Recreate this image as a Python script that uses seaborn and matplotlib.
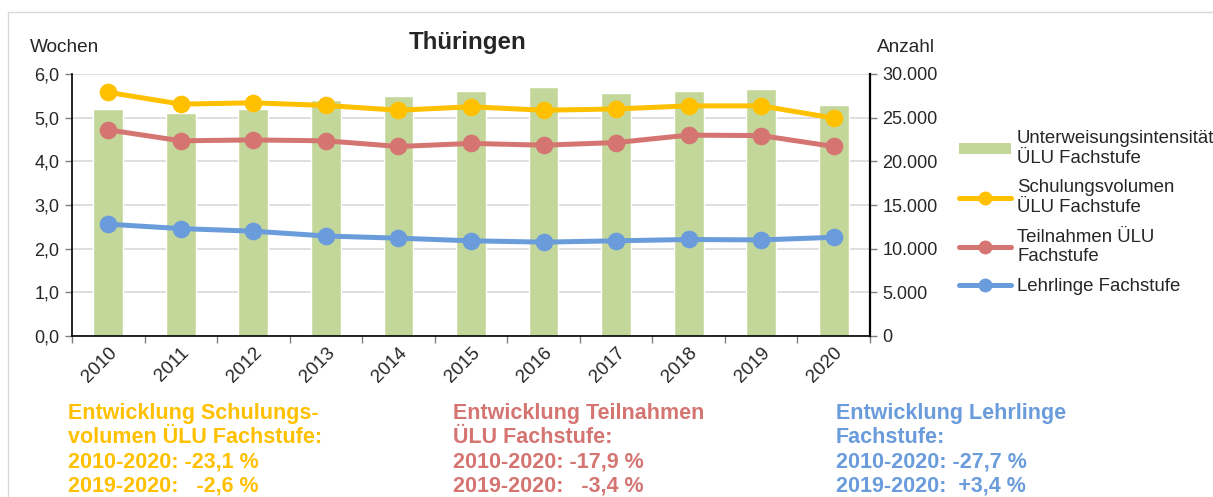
import numpy as np
import pandas as pd
import matplotlib.pyplot as plt
from matplotlib.patches import Rectangle, Patch
from matplotlib.lines import Line2D
from matplotlib.ticker import FuncFormatter, FixedLocator
import seaborn as sns

jahre = ['2010', '2011', '2012', '2013', '2014', '2015', '2016', '2017', '2018', '2019', '2020']
intensitaet = [5.2, 5.1, 5.2, 5.4, 5.5, 5.6, 5.7, 5.57, 5.6, 5.65, 5.28]
schulungsvolumen = [27900, 26550, 26700, 26400, 25850, 26250, 25850, 26000, 26350, 26350, 24950]
teilnahmen = [23600, 22350, 22450, 22350, 21700, 22050, 21850, 22150, 23000, 22950, 21700]
lehrlinge = [12800, 12300, 12000, 11450, 11200, 10900, 10750, 10900, 11050, 11000, 11300]

namen = ['Schulungsvolumen\nÜLU Fachstufe', 'Teilnahmen ÜLU\nFachstufe', 'Lehrlinge Fachstufe']
farben = ['#FFC000', '#D47572', '#6A9CDC']
gruen = '#C4D79B'

sns.set_theme(style='white')
plt.rcParams['font.family'] = ['Liberation Sans', 'DejaVu Sans']

df_bar = pd.DataFrame({'Jahr': jahre, 'Wochen': intensitaet})
df_lin = pd.DataFrame({
    'Jahr': jahre * 3,
    'Anzahl': schulungsvolumen + teilnahmen + lehrlinge,
    'Serie': [namen[0]] * 11 + [namen[1]] * 11 + [namen[2]] * 11,
})

fig = plt.figure(figsize=(12.13, 4.97), dpi=100)
ax = fig.add_axes([72 / 1213, 1 - 336 / 497, (870 - 72) / 1213, 262 / 497])

sns.barplot(data=df_bar, x='Jahr', y='Wochen', color=gruen, saturation=1, width=0.41, ax=ax)
ax.set_ylim(0, 6)
ax.set_xlim(-0.5, 10.5)
ax.set_yticks(np.arange(0, 6.01, 1))
ax.yaxis.set_major_formatter(FuncFormatter(lambda v, p: f'{v:.1f}'.replace('.', ',')))
ax.grid(axis='y', color='#D9D9D9', linewidth=1.2)
ax.set_axisbelow(True)
ax.set_xlabel('')
ax.set_ylabel('')
for s in ['left', 'bottom']:
    ax.spines[s].set_color('black')
    ax.spines[s].set_linewidth(1.2)
ax.spines['top'].set_visible(False)
ax.spines['right'].set_visible(False)
ax.tick_params(axis='y', which='major', left=True, length=5, width=1, color='#808080', labelsize=13, pad=4)
ax.tick_params(axis='x', which='major', length=0, labelsize=13.5, pad=6)
ax.xaxis.set_minor_locator(FixedLocator(np.arange(-0.5, 11, 1)))
ax.tick_params(axis='x', which='minor', bottom=True, length=5, width=1, color='#808080')
for lbl in ax.get_xticklabels():
    lbl.set_rotation(45)
    lbl.set_ha('right')
    lbl.set_rotation_mode('anchor')

ax2 = ax.twinx()
sns.pointplot(data=df_lin, x='Jahr', y='Anzahl', hue='Serie', palette=farben,
              markers='o', linestyles='-', errorbar=None, ax=ax2,
              linewidth=3.6, markersize=10)
ax2.legend_.remove()
ax2.set_ylim(0, 30000)
ax2.set_xlim(-0.5, 10.5)
ax2.set_yticks(np.arange(0, 30001, 5000))
ax2.yaxis.set_major_formatter(FuncFormatter(lambda v, p: f'{int(v):,}'.replace(',', '.')))
ax2.set_ylabel('')
ax2.set_xlabel('')
ax2.grid(False)
for s in ['top', 'left', 'bottom']:
    ax2.spines[s].set_visible(False)
ax2.spines['right'].set_color('black')
ax2.spines['right'].set_linewidth(1.6)
ax2.tick_params(axis='y', right=True, length=5, width=1, color='#808080', labelsize=13, pad=4)

fig.text(468 / 1213, 1 - 43 / 497, 'Thüringen', ha='center', va='center', fontsize=17.4, fontweight='bold')
fig.text(30 / 1213, 1 - 47 / 497, 'Wochen', ha='left', va='center', fontsize=13.7)
fig.text(877 / 1213, 1 - 47 / 497, 'Anzahl', ha='left', va='center', fontsize=13.7)

handles = [Patch(facecolor=gruen, edgecolor='none')]
for f in farben:
    handles.append(Line2D([0], [0], color=f, linewidth=3.6, marker='o', markersize=9))
labels = ['Unterweisungsintensität\nÜLU Fachstufe'] + namen
fig.legend(handles, labels, loc='upper left', bbox_to_anchor=(946 / 1213, 1 - 117 / 497),
           frameon=False, fontsize=13.4, handlelength=2.8, handleheight=0.5,
           handletextpad=0.32, labelspacing=0.68, borderaxespad=0.3)

texte = [
    (68, farben[0], 'Entwicklung Schulungs-\nvolumen ÜLU Fachstufe:\n2010-2020: -23,1 %\n2019-2020:   -2,6 %'),
    (453, farben[1], 'Entwicklung Teilnahmen\nÜLU Fachstufe:\n2010-2020: -17,9 %\n2019-2020:   -3,4 %'),
    (836, farben[2], 'Entwicklung Lehrlinge\nFachstufe:\n2010-2020: -27,7 %\n2019-2020:  +3,4 %'),
]
for x, c, t in texte:
    fig.text(x / 1213, 1 - 403 / 497, t, ha='left', va='top', color=c,
             fontsize=15.5, fontweight='bold', linespacing=1.2)

fig.add_artist(Rectangle((8 / 1213, -0.1), 1.2, 1.1 - 12 / 497, transform=fig.transFigure,
                         fill=False, edgecolor='#D9D9D9', linewidth=1))

fig.savefig('out.png', dpi=100)
